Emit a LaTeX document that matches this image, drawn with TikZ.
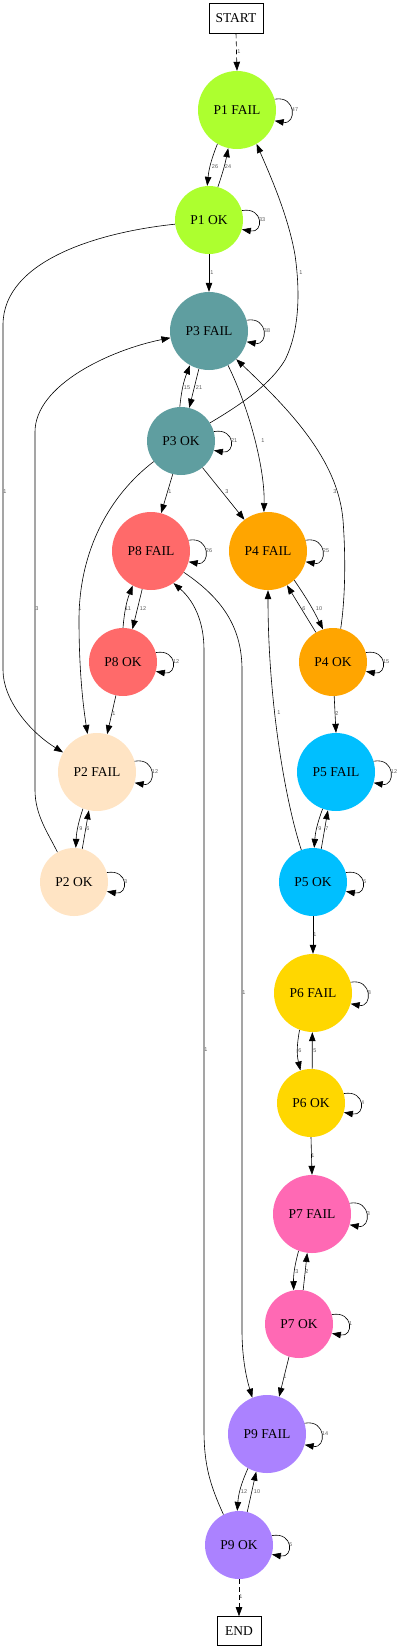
\documentclass[tikz,border=0pt]{standalone}
\usepackage{fontspec}
\setmainfont{Liberation Serif}
\newfontfamily\lblfont{Liberation Sans}
\usetikzlibrary{arrows.meta}
\definecolor{cPone}{HTML}{ADFF2F}
\definecolor{cPtwo}{HTML}{FFE4C4}
\definecolor{cPthree}{HTML}{5F9EA0}
\definecolor{cPfour}{HTML}{FFA500}
\definecolor{cPfive}{HTML}{00BFFF}
\definecolor{cPsix}{HTML}{FFD700}
\definecolor{cPseven}{HTML}{FF69B4}
\definecolor{cPeight}{HTML}{FF6A6A}
\definecolor{cPnine}{HTML}{AB82FF}
\begin{document}
\begin{tikzpicture}[x=1pt,y=-1pt,
  big/.style={circle, minimum size=78pt, inner sep=0pt, font=\fontsize{13.5}{15}\selectfont},
  small/.style={circle, minimum size=68pt, inner sep=0pt, font=\fontsize{13.5}{15}\selectfont},
  term/.style={draw, rectangle, inner sep=0pt, line width=0.6pt, font=\fontsize{13.5}{15}\selectfont},
  e/.style={draw, line width=0.6pt, -{Triangle[length=9pt,width=6.5pt]}},
  dsh/.style={dash pattern=on 5pt off 3pt},
  lbl/.style={font=\lblfont\fontsize{5.5}{6}\selectfont, text=black!65, inner sep=0.5pt},
  lp/.style={lbl, pos=0.5, anchor=west}]
\useasboundingbox (0,0) rectangle (403,1650);

% nodes
\node[term, minimum width=54pt, minimum height=30pt] (start) at (236,18) {START};
\node[big, fill=cPone] (p1f) at (237,110) {P1 FAIL};
\node[small, fill=cPone] (p1o) at (209,220) {P1 OK};
\node[big, fill=cPthree] (p3f) at (209,331) {P3 FAIL};
\node[small, fill=cPthree] (p3o) at (181,441) {P3 OK};
\node[big, fill=cPeight] (p8f) at (151,551) {P8 FAIL};
\node[big, fill=cPfour] (p4f) at (268,551) {P4 FAIL};
\node[small, fill=cPeight] (p8o) at (123,662) {P8 OK};
\node[small, fill=cPfour] (p4o) at (333,662) {P4 OK};
\node[big, fill=cPtwo] (p2f) at (97,772) {P2 FAIL};
\node[big, fill=cPfive] (p5f) at (336,772) {P5 FAIL};
\node[small, fill=cPtwo] (p2o) at (74,882) {P2 OK};
\node[small, fill=cPfive] (p5o) at (313,882) {P5 OK};
\node[big, fill=cPsix] (p6f) at (313,993) {P6 FAIL};
\node[small, fill=cPsix] (p6o) at (311,1103) {P6 OK};
\node[big, fill=cPseven] (p7f) at (312,1214) {P7 FAIL};
\node[small, fill=cPseven] (p7o) at (299,1324) {P7 OK};
\node[big, fill=cPnine] (p9f) at (267,1434) {P9 FAIL};
\node[small, fill=cPnine] (p9o) at (239,1545) {P9 OK};
\node[term, minimum width=44pt, minimum height=29pt] (end) at (239,1631) {END};

% self loops
\foreach \n/\t in {p1f/47,p1o/33,p3f/38,p3o/21,p8f/26,p4f/25,p8o/12,p4o/15,p2f/12,p5f/12,p2o/3,p5o/6,p6f/8,p6o/4,p7f/3,p7o/1,p9f/14,p9o/6}
  \draw[e] (\n.16) .. controls +(22,-4) and +(22,4) .. (\n.-16) node[lp] {\t};

% start / end
\draw[e, dsh] (start.south) -- (p1f.north) node[lbl] at (239,52) {1};
\draw[e, dsh] (p9o.south) -- (end.north) node[lbl] at (241,1597) {1};

% pairs
\draw[e] (p1f.-120) to[bend right=8] (p1o.93) node[lbl] at (215,167) {26};
\draw[e] (p1o.75) to[bend right=4] (p1f.-103) node[lbl] at (228,167) {24};
\draw[e] (p3f.-105) -- (p3o.76) node[lbl] at (199,388) {21};
\draw[e] (p3o.92) to[bend left=8] (p3f.-119) node[lbl] at (187,388) {15};
\draw[e] (p8f.-103) -- (p8o.74) node[lbl] at (143,609) {12};
\draw[e] (p8o.90) to[bend left=8] (p8f.-118) node[lbl] at (128,609) {11};
\draw[e] (p4f.-48) to[bend left=4] (p4o.107) node[lbl] at (319,609) {10};
\draw[e] (p4o.120) -- (p4f.-61) node[lbl] at (304,609) {6};
\draw[e] (p2f.-111) to[bend right=8] (p2o.87) node[lbl] at (81,829) {9};
\draw[e] (p2o.76) -- (p2f.-102) node[lbl] at (88,829) {6};
\draw[e] (p5f.-110) to[bend right=8] (p5o.88) node[lbl] at (320,829) {9};
\draw[e] (p5o.76) -- (p5f.-102) node[lbl] at (327,829) {7};
\draw[e] (p6f.-110) to[bend right=12] (p6o.108) node[lbl] at (300,1051) {6};
\draw[e] (p6o.88) -- (p6f.-91) node[lbl] at (315,1051) {5};
\draw[e] (p7f.-110) to[bend right=8] (p7o.99) node[lbl] at (297,1272) {3};
\draw[e] (p7o.83) -- (p7f.-97) node[lbl] at (307,1272) {2};
\draw[e] (p9f.-119) to[bend right=10] (p9o.93) node[lbl] at (244,1492) {12};
\draw[e] (p9o.76) -- (p9f.-106) node[lbl] at (257,1492) {10};

% straight transitions
\draw[e] (p1o.south) -- (p3f.north) node[lbl] at (212,273) {1};
\draw[e] (p3o.-104) -- (p8f.75) node[lbl] at (170,492) {1};
\draw[e] (p3o.-51) -- (p4f.127) node[lbl] at (227,492) {3};
\draw[e] (p8o.-102) -- (p2f.75) node[lbl] at (114,714) {1};
\draw[e] (p4o.-88) -- (p5f.north) node[lbl] at (337,714) {2};
\draw[e] (p5o.south) -- (p6f.north) node[lbl] at (315,935) {1};
\draw[e] (p6o.south) -- (p7f.north) node[lbl] at (313,1156) {1};
\draw[e] (p7o.-107) -- (p9f.72) node[lbl] at (285,1377) {1};

% curved transitions
\draw[e] (p3f.-61) .. controls (250,410) and (265,470) .. (p4f.96) node[lbl] at (263,441) {1};
\draw[e] (p1o.-173) .. controls (100,232) and (3,260) .. (3,325) -- (3,670) .. controls (3,700) and (30,732) .. (p2f.150) node[lbl] at (5,492) {1};
\draw[e] (p2o.119) .. controls (48,833) and (35,815) .. (35,790) -- (35,432) .. controls (35,385) and (110,350) .. (p3f.190) node[lbl] at (37,609) {3};
\draw[e] (p3o.-143) .. controls (110,495) and (79,550) .. (79,620) .. controls (79,670) and (83,705) .. (p2f.104) node[lbl] at (80,609) {1};
\draw[e] (p3o.32) .. controls (240,405) and (270,385) .. (285,360) .. controls (300,330) and (300,290) .. (295,255) .. controls (288,215) and (270,175) .. (p1f.-60) node[lbl] at (301,273) {1};
\draw[e] (p4o.77) .. controls (345,600) and (346,560) .. (343,520) .. controls (338,460) and (290,410) .. (p3f.-46) node[lbl] at (335,492) {3};
\draw[e] (p5o.110) .. controls (285,800) and (268,700) .. (p4f.south) node[lbl] at (279,713) {1};
\draw[e] (p8f.-33) .. controls (225,600) and (242,630) .. (242,670) -- (242,1330) .. controls (242,1360) and (247,1380) .. (p9f.112) node[lbl] at (244,993) {1};
\draw[e] (p9o.117) .. controls (210,1485) and (204,1465) .. (204,1430) -- (204,650) .. controls (204,620) and (193,600) .. (p8f.-55) node[lbl] at (206,1050) {1};
\end{tikzpicture}
\end{document}
